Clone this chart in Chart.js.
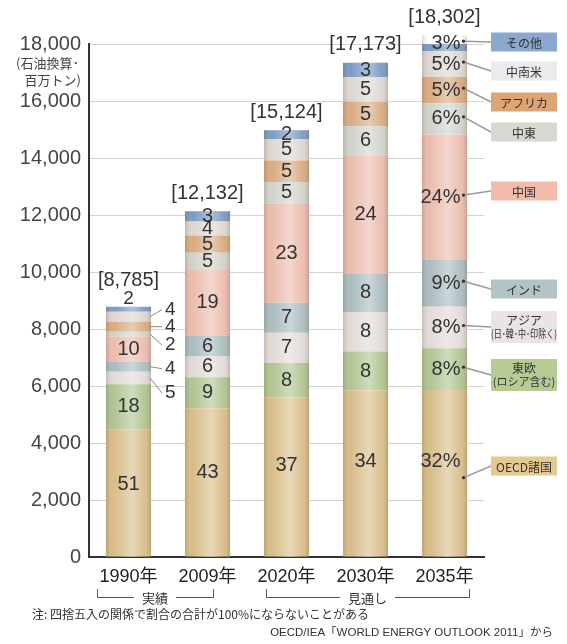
<!DOCTYPE html>
<html>
<head>
<meta charset="utf-8">
<script src="https://cdn.jsdelivr.net/npm/chart.js@4.4.1/dist/chart.umd.min.js"></script>
<style>
  html, body { margin: 0; padding: 0; background: #fff; }
  #wrap { width: 567px; height: 644px; }
</style>
</head>
<body>
<div id="wrap"><canvas id="chart" width="567" height="644"></canvas></div>
<script>
// Years and total demand (million tonnes of oil equivalent)
const years = ['1990年', '2009年', '2020年', '2030年', '2035年'];
const totals = [8785, 12132, 15124, 17173, 18302];

// Regional shares (%) per year, bottom of the stack first
const shareOECD = [51, 43, 37, 34, 32];
const shareEastEurope = [18, 9, 8, 8, 8];
const shareAsia = [5, 6, 7, 8, 8];
const shareIndia = [4, 6, 7, 8, 9];
const shareChina = [10, 19, 23, 24, 24];
const shareMiddleEast = [2, 5, 5, 6, 6];
const shareAfrica = [4, 5, 5, 5, 5];
const shareLatinAmerica = [4, 4, 5, 5, 5];
const shareOther = [2, 3, 2, 3, 3];

const regionNames = ['OECD諸国', '東欧', 'アジア', 'インド', '中国', '中東', 'アフリカ', '中南米', 'その他'];
const legendLines = [
    ['OECD諸国'],
    ['東欧', '(ロシア含む)'],
    ['アジア', '(日･韓･中･印除く)'],
    ['インド'],
    ['中国'],
    ['中東'],
    ['アフリカ'],
    ['中南米'],
    ['その他']
];
const shares = [shareOECD, shareEastEurope, shareAsia, shareIndia, shareChina,
                shareMiddleEast, shareAfrica, shareLatinAmerica, shareOther];

const noteText = '注: 四捨五入の関係で割合の合計が100%にならないことがある';
const sourceText = 'OECD/IEA「WORLD ENERGY OUTLOOK 2011」から';

// Styling
const LATIN = "'Liberation Sans', 'Noto Sans CJK JP', sans-serif";
const JP = "'Noto Sans CJK JP', sans-serif";
const barColors = ['#d8bd89', '#b0c592', '#e2dad7', '#abbcc0', '#ecbcae', '#d1d3cb', '#d9ab81', '#ddd7d2', '#7c9ac2'];
const boxColors = ['#e6c98e', '#b6cc94', '#ece4e4', '#b3c4c7', '#f2bbab', '#d8d8d1', '#dea574', '#ecebea', '#8aa7d0'];
const boxCenters = [466, 375, 327, 289, 191, 132, 102, 71, 42];

function fmt(v) {
    return v.toLocaleString('en-US');
}

// segment heights come from total x share
const datasets = shares.map((arr, i) => ({
    label: regionNames[i],
    data: arr.map((p, j) => totals[j] * p / 100),
    backgroundColor: barColors[i],
    borderWidth: 0,
    barPercentage: 0.57,
    categoryPercentage: 1.0
}));

// Cylinder shading, value labels, totals, leader lines and side legend
const decorPlugin = {
    id: 'decor',
    afterDatasetsDraw(chart) {
        const ctx = chart.ctx;
        const area = chart.chartArea;
        const metas = chart.data.datasets.map((d, i) => chart.getDatasetMeta(i));
        const last = metas.length - 1;

        // shading over each stacked column
        for (let j = 0; j < years.length; j++) {
            const b = metas[0].data[j].getProps(['x', 'width'], true);
            const top = metas[last].data[j].getProps(['y'], true).y;
            const left = b.x - b.width / 2, right = b.x + b.width / 2;
            const g = ctx.createLinearGradient(left, 0, right, 0);
            g.addColorStop(0, 'rgba(80,60,30,0.20)');
            g.addColorStop(0.18, 'rgba(255,255,255,0.0)');
            g.addColorStop(0.58, 'rgba(255,255,255,0.40)');
            g.addColorStop(0.85, 'rgba(255,255,255,0.05)');
            g.addColorStop(1, 'rgba(80,60,30,0.22)');
            ctx.save();
            ctx.fillStyle = g;
            ctx.fillRect(left, top, right - left, area.bottom - top);
            ctx.restore();
        }

        ctx.save();
        ctx.fillStyle = '#333';
        ctx.textBaseline = 'middle';

        // 1990 small segments are labelled outside the bar
        const sideOffset = {2: 15, 3: 2, 5: 11, 6: 0, 7: -7};

        metas.forEach((meta, i) => {
            meta.data.forEach((el, j) => {
                const p = el.getProps(['x', 'y', 'base', 'width'], true);
                const pct = shares[i][j];
                let cy = (p.y + p.base) / 2;
                if (i === 0) cy = p.base - (p.base - p.y) * 0.57;

                if (j === 0 && sideOffset[i] !== undefined) {
                    const x0 = p.x + p.width / 2;
                    const ly = cy + sideOffset[i];
                    ctx.strokeStyle = '#8a8a8a';
                    ctx.lineWidth = 1;
                    ctx.beginPath();
                    ctx.moveTo(x0 - 1, cy);
                    ctx.lineTo(x0 + 11, ly);
                    ctx.stroke();
                    ctx.font = '19px ' + LATIN;
                    ctx.textAlign = 'left';
                    ctx.fillText(String(pct), x0 + 14, ly);
                    return;
                }
                if (j === 0 && i === last) {
                    ctx.font = '19px ' + LATIN;
                    ctx.textAlign = 'center';
                    ctx.fillText(String(pct), p.x, p.y - 8);
                    return;
                }
                if (j === years.length - 1) {
                    // percentage with dot and leader to the legend box
                    ctx.font = '20px ' + LATIN;
                    ctx.textAlign = 'right';
                    ctx.fillText(pct + '%', p.x + 16, cy);
                    const dx = p.x + 19;
                    const dy = i === 0 ? cy + 16 : cy - 2;
                    ctx.strokeStyle = '#9a9a9a';
                    ctx.lineWidth = 1.5;
                    ctx.beginPath();
                    ctx.moveTo(dx, dy);
                    ctx.lineTo(491, boxCenters[i]);
                    ctx.stroke();
                    ctx.beginPath();
                    ctx.arc(dx, dy, 1.6, 0, Math.PI * 2);
                    ctx.fill();
                    return;
                }
                ctx.font = '20px ' + LATIN;
                ctx.textAlign = 'center';
                ctx.fillText(String(pct), p.x, cy);
            });
        });

        // totals in brackets above each column
        ctx.font = '20px ' + LATIN;
        ctx.textAlign = 'center';
        metas[last].data.forEach((el, j) => {
            const p = el.getProps(['x', 'y'], true);
            const off = j === 0 ? 26 : 18;
            ctx.fillText('[' + fmt(totals[j]) + ']', p.x, p.y - off);
        });

        // side legend boxes
        legendLines.forEach((lines, i) => {
            const h = lines.length > 1 ? 32 : 19;
            const top = boxCenters[i] - h / 2;
            ctx.fillStyle = boxColors[i];
            ctx.fillRect(491, top, 66, h);
            ctx.fillStyle = '#333';
            if (lines.length === 1) {
                ctx.font = '12px ' + JP;
                ctx.fillText(lines[0], 524, boxCenters[i] + 1, 62);
            } else {
                ctx.font = '12px ' + JP;
                ctx.fillText(lines[0], 524, top + 9, 62);
                ctx.font = '11px ' + JP;
                ctx.fillText(lines[1], 524, top + 23, 66);
            }
        });
        ctx.restore();
    },
    afterDraw(chart) {
        const ctx = chart.ctx;
        ctx.save();
        ctx.fillStyle = '#444';
        ctx.textBaseline = 'middle';

        // y axis unit
        ctx.font = '13px ' + JP;
        ctx.textAlign = 'right';
        ctx.fillText('(石油換算･', 79, 63);
        ctx.fillText('百万トン)', 81, 80);

        // period brackets under the year labels
        ctx.strokeStyle = '#555';
        ctx.lineWidth = 1;
        const brackets = [
            {l: 97, r: 213, text: '実績'},
            {l: 266, r: 469, text: '見通し'}
        ];
        ctx.font = '13px ' + JP;
        ctx.textAlign = 'center';
        ctx.fillStyle = '#333';
        brackets.forEach(b => {
            const mid = (b.l + b.r) / 2;
            const tw = ctx.measureText(b.text).width;
            ctx.beginPath();
            ctx.moveTo(b.l + 0.5, 589);
            ctx.lineTo(b.l + 0.5, 597.5);
            ctx.lineTo(mid - tw / 2 - 8, 597.5);
            ctx.moveTo(mid + tw / 2 + 8, 597.5);
            ctx.lineTo(b.r + 0.5, 597.5);
            ctx.lineTo(b.r + 0.5, 589);
            ctx.stroke();
            ctx.fillText(b.text, mid, 598);
        });

        // note and source
        ctx.font = '12px ' + JP;
        ctx.textAlign = 'left';
        ctx.fillText(noteText, 32, 614);
        ctx.font = '11.5px ' + LATIN;
        ctx.textAlign = 'right';
        ctx.fillText(sourceText, 553, 633);
        ctx.restore();
    }
};

new Chart(document.getElementById('chart'), {
    type: 'bar',
    data: { labels: years, datasets: datasets },
    options: {
        responsive: false,
        animation: false,
        devicePixelRatio: 1,
        layout: { padding: { top: 44, right: 83, bottom: 0, left: 0 } },
        plugins: {
            legend: { display: false },
            tooltip: { enabled: false }
        },
        scales: {
            x: {
                stacked: true,
                grid: { display: false, drawTicks: false },
                border: { color: '#333', width: 2 },
                ticks: { color: '#222', font: { family: LATIN, size: 18 }, padding: 9 },
                afterFit(scale) { scale.height = 87; }
            },
            y: {
                stacked: true,
                min: 0,
                max: 18000,
                grid: { color: '#d2d2d2', lineWidth: 1, drawTicks: false },
                border: { color: '#333', width: 2 },
                ticks: {
                    stepSize: 2000,
                    color: '#444',
                    padding: 8,
                    font: { family: LATIN, size: 20 },
                    callback: v => fmt(v)
                },
                afterFit(scale) { scale.width = 89; }
            }
        }
    },
    plugins: [decorPlugin]
});
</script>
</body>
</html>
